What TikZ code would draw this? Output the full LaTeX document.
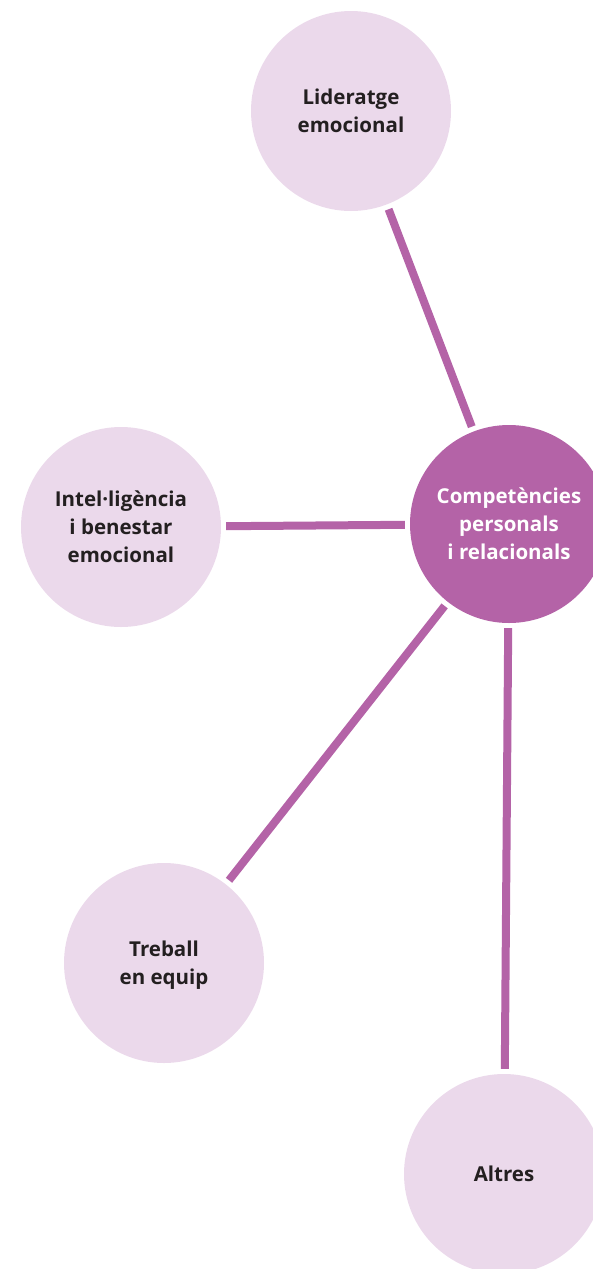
\documentclass[tikz,border=0pt]{standalone}
\usepackage{fontspec}
\setmainfont{Open Sans}
\usetikzlibrary{calc, positioning}
\definecolor{lila}{HTML}{B463A7}
\definecolor{lilaclar}{HTML}{EBD9EB}
\definecolor{textfosc}{HTML}{231F20}
\tikzset{
	tema/.style={circle, fill=lilaclar, minimum size=200pt, inner sep=0pt, align=center,
		text=textfosc, font=\bfseries\fontsize{20.5}{28}\selectfont, text depth=-15pt},
	centre/.style={tema, fill=lila, minimum size=198pt, text=white},
	enllac/.style={line width=8pt, color=lila, shorten <=5pt, shorten >=5pt}
}

\begin{document}
\begin{tikzpicture}[x=1pt, y=-1pt]

		%fix the page size
		\useasboundingbox (0,0) rectangle (592,1269);

		%central circle
		\node[centre] (comp) at (509,524) {Compet\`encies\\personals\\i relacionals};

		%surrounding circles
		\node[tema] (lider) at (351,111) {Lideratge\\emocional};
		\node[tema] (intel) at (121,527) {Intel·lig\`encia\\i benestar\\emocional};
		\node[tema] (treball) at (164,963) {Treball\\en equip};
		\node[tema] (altres) at (504,1174) {Altres};

		%connectors
		\draw[enllac] (lider) -- (comp);
		\draw[enllac] (intel) -- (comp);
		\draw[enllac] (treball) -- (comp);
		\draw[enllac] (altres) -- (comp);

	\end{tikzpicture}
\end{document}
